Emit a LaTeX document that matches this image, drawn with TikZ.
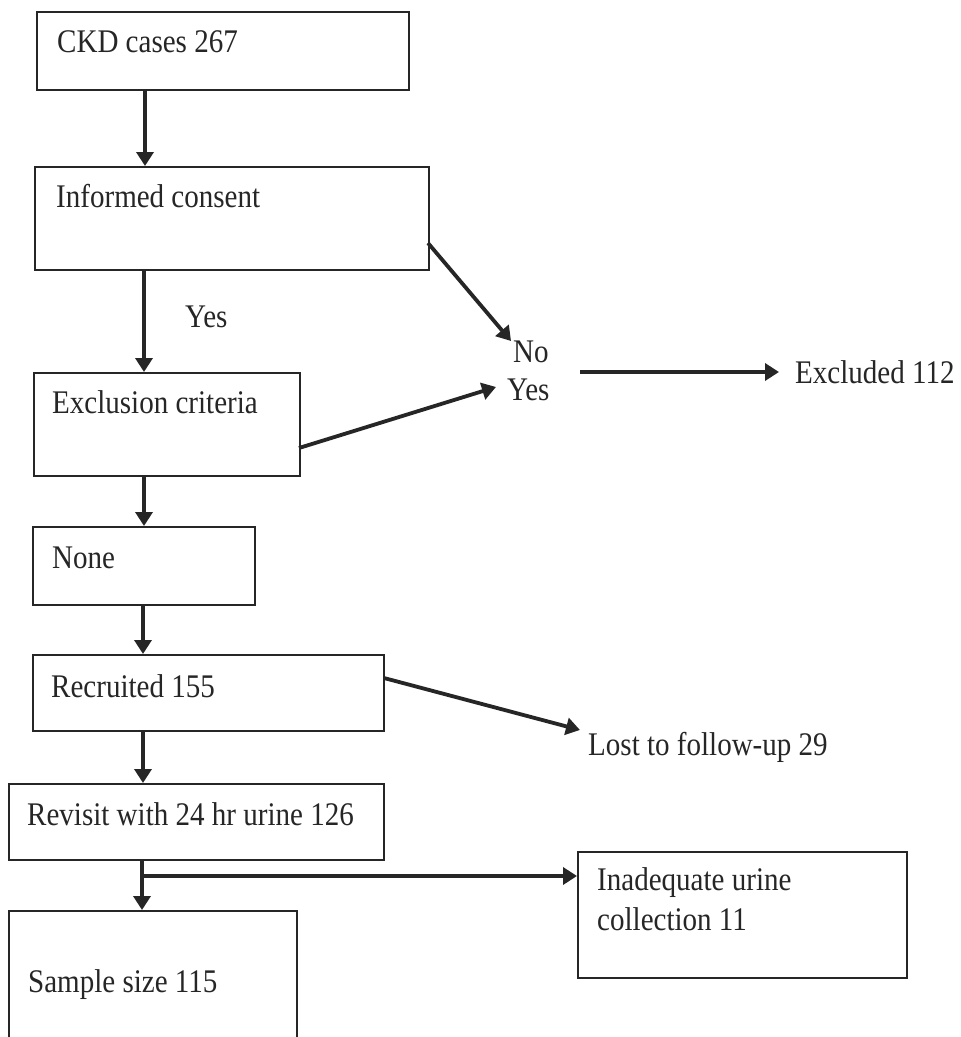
\documentclass[tikz,border=0pt]{standalone}
\usepackage{fontspec}
\setmainfont{Liberation Serif}[FakeStretch=0.88]
\usetikzlibrary{arrows.meta}
\begin{document}
\begin{tikzpicture}[x=1pt,y=-1pt,
  box/.style={draw=black!85, line width=1.8pt, inner sep=0pt, anchor=north west},
  txt/.style={inner sep=0pt, anchor=base west, font=\fontsize{33}{40}\selectfont, text=black!85},
  arr/.style={draw=black!85, line width=3.8pt, -{Triangle[length=14pt,width=17pt]}},
  ln/.style={draw=black!85, line width=3.8pt}]
\fill[white] (0,0) rectangle (961,1037);
\useasboundingbox (0,0) rectangle (961,1037);
\begin{scope}
\clip (0,0) rectangle (961,1037);
% boxes
\node[box, minimum width=372pt, minimum height=78pt] (ckd) at (36,11) {};
\node[box, minimum width=394pt, minimum height=103pt] (ic) at (34,166) {};
\node[box, minimum width=266pt, minimum height=103pt] (ex) at (33,372) {};
\node[box, minimum width=222pt, minimum height=78pt] (none) at (32,526) {};
\node[box, minimum width=351pt, minimum height=76pt] (rec) at (32,654) {};
\node[box, minimum width=375pt, minimum height=76pt] (rev) at (8,783) {};
\node[box, minimum width=288pt, minimum height=140pt] (ss) at (8,910) {};
\node[box, minimum width=329pt, minimum height=126pt] (inad) at (577,851) {};
% texts
\node[txt] (tckd) at (57,52) {CKD cases 267};
\node[txt] (tic) at (56,207) {Informed consent};
\node[txt] (tyes1) at (185,327) {Yes};
\node[txt] (tex) at (52,413) {Exclusion criteria};
\node[txt] (tno) at (513,362) {No};
\node[txt] (tyes2) at (507,400) {Yes};
\node[txt] (texcl) at (795,383) {Excluded 112};
\node[txt] (tnone) at (52,568) {None};
\node[txt] (trec) at (51,697) {Recruited 155};
\node[txt] (tlost) at (588,755) {Lost to follow-up 29};
\node[txt] (trev) at (27,825) {Revisit with 24 hr urine 126};
\node[txt] (tss) at (28,992) {Sample size 115};
\node[txt] (tinad1) at (597,890) {Inadequate urine};
\node[txt] (tinad2) at (597,930) {collection 11};
% helper coordinates
\coordinate (c1) at (145,0);
\coordinate (c2) at (144,0);
\coordinate (c3) at (143,0);
\coordinate (c4) at (142,0);
\coordinate (icout) at (428,243);
\coordinate (noin) at (511,341);
\coordinate (exout) at (299,448);
\coordinate (yesin) at (496,387);
\coordinate (exclA) at (580,372);
\coordinate (exclB) at (779,372);
\coordinate (recout) at (384,678);
\coordinate (lostin) at (580,730);
\coordinate (split) at (142,876);
% connectors
\draw[arr] (ckd.south -| c1) -- (ic.north -| c1);
\draw[arr] (ic.south -| c2) -- (ex.north -| c2);
\draw[arr] (ex.south -| c2) -- (none.north -| c2);
\draw[arr] (none.south -| c3) -- (rec.north -| c3);
\draw[arr] (rec.south -| c3) -- (rev.north -| c3);
\draw[arr] (rev.south -| c4) -- (ss.north -| c4);
\draw[arr] (split) -- (split -| inad.west);
\draw[arr] (icout) -- (noin);
\draw[arr] (exout) -- (yesin);
\draw[arr] (exclA) -- (exclB);
\draw[arr] (recout) -- (lostin);
\end{scope}
\end{tikzpicture}
\end{document}
